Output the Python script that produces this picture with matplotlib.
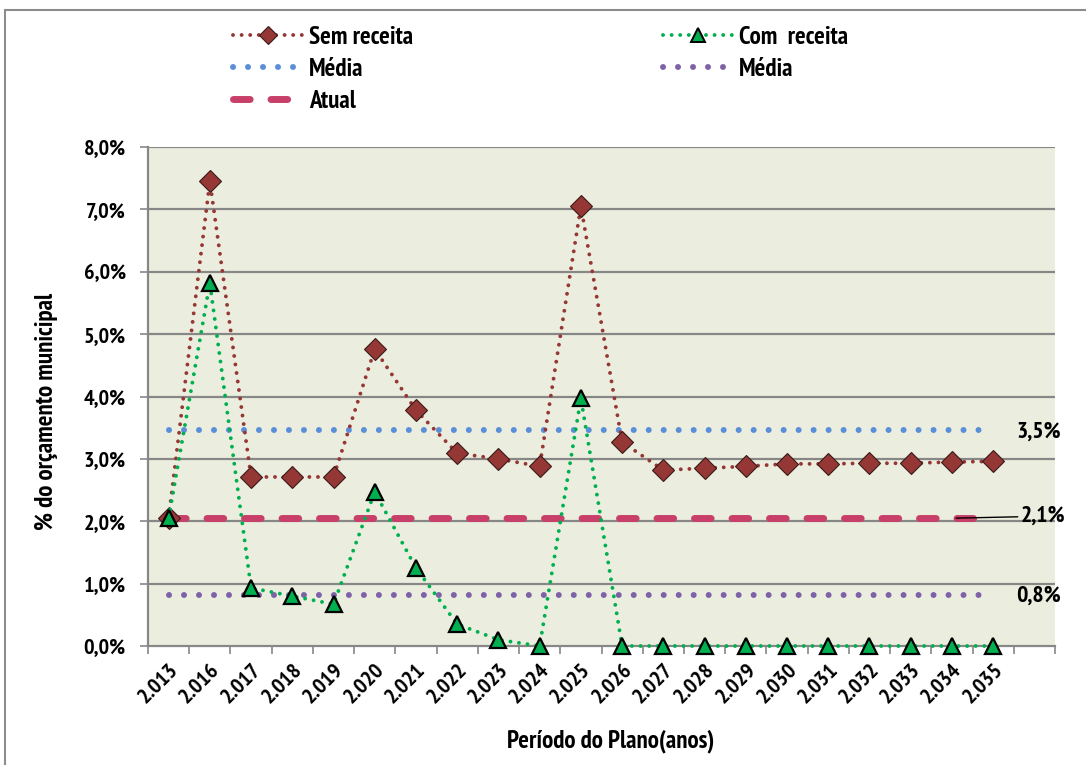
import matplotlib
matplotlib.use("Agg")
import matplotlib.pyplot as plt
from matplotlib import font_manager
from matplotlib.patches import Rectangle
from matplotlib.lines import Line2D
import matplotlib.transforms as mtransforms

# --- data ---
anos = ["2.013", "2.016", "2.017", "2.018", "2.019", "2.020", "2.021", "2.022",
        "2.023", "2.024", "2.025", "2.026", "2.027", "2.028", "2.029", "2.030",
        "2.031", "2.032", "2.033", "2.034", "2.035", ""]
sem_receita = [2.05, 7.45, 2.71, 2.71, 2.71, 4.76, 3.78, 3.09, 3.00, 2.88, 7.05,
               3.27, 2.82, 2.85, 2.88, 2.92, 2.92, 2.93, 2.93, 2.95, 2.96]
com_receita = [2.05, 5.82, 0.93, 0.80, 0.67, 2.47, 1.25, 0.35, 0.10, 0.0, 3.97,
               0.0, 0.0, 0.0, 0.0, 0.0, 0.0, 0.0, 0.0, 0.0, 0.0]
media_sem = 3.47
media_com = 0.82
atual = 2.05
rotulos = {"media_sem": "3,5%", "atual": "2,1%", "media_com": "0,8%"}
yticks = [0, 1, 2, 3, 4, 5, 6, 7, 8]

# --- narrow bold font if we have one ---
names = {f.name for f in font_manager.fontManager.ttflist}
fam = [f for f in ["PT Sans Narrow", "Roboto Condensed", "Liberation Sans Narrow"] if f in names]
plt.rcParams["font.family"] = fam + ["DejaVu Sans"]
plt.rcParams["font.weight"] = "bold"
plt.rcParams["axes.labelweight"] = "bold"
if not fam:
    plt.rcParams["font.stretch"] = "condensed"

FS_TICK = 16
FS_TXT = 18
FS_VAL = 17

fig = plt.figure(figsize=(10.86, 7.65), dpi=100)
fig.patches.append(Rectangle((0.005, -0.1), 1.2, 1.087, transform=fig.transFigure,
                             fill=False, edgecolor="#8c8c8c", linewidth=1.5))

ax = fig.add_axes([148 / 1086, 1 - 646 / 765, 907 / 1086, 499 / 765])
ax.set_facecolor("#EBEEDE")

n = len(sem_receita)
x = list(range(n))

ax.set_xlim(-0.5, len(anos) - 0.5)
ax.set_ylim(0, 8)

for v in yticks[1:]:
    ax.axhline(v, color="#878787", lw=1.6, zorder=1)

blue = "#5B8ED8"
purple = "#7E62A8"
atual_col = "#C8406A"
brown = "#953735"
green = "#00B050"

dot_avg = dict(lw=4.3, linestyle=(0, (0.01, 2.5)), dash_capstyle="round")
dot_ser = dict(lw=2.8, linestyle=(0, (0.01, 2.2)), dash_capstyle="round")
dash_at = dict(lw=5, linestyle=(0, (2.4, 3)), dash_capstyle="round")

ax.plot(x, [media_sem] * n, color=blue, zorder=2, **dot_avg)
ax.plot(x, [media_com] * n, color=purple, zorder=2, **dot_avg)
ax.plot(x, [atual] * n, color=atual_col, zorder=3, **dash_at)

ax.plot(x, sem_receita, color=brown, marker="D", ms=11, mfc=brown, mec="#3a1a1a",
        mew=0.8, zorder=4, **dot_ser)
ax.plot(x, com_receita, color=green, marker="^", ms=12, mfc=green, mec="black",
        mew=1.6, zorder=5, clip_on=False, **dot_ser)

# axes styling
for s in ["top", "right"]:
    ax.spines[s].set_visible(False)
for s in ["left", "bottom"]:
    ax.spines[s].set_color("#878787")
    ax.spines[s].set_linewidth(1.6)

ax.set_yticks(yticks)
ax.set_yticklabels([f"{v:.1f}%".replace(".", ",") for v in yticks], fontsize=FS_TICK)
ax.tick_params(axis="y", direction="out", length=6, color="#878787", width=1.2, pad=10)

ax.set_xticks([i - 0.5 for i in range(len(anos) + 1)], minor=True)
ax.set_xticks(range(len(anos)))
ax.set_xticklabels(anos, rotation=45, ha="right", rotation_mode="anchor", fontsize=FS_TICK)
ax.tick_params(axis="x", which="major", length=0, pad=10)
ax.tick_params(axis="x", which="minor", direction="out", length=6, color="#878787", width=1.2)

ax.set_ylabel("% do orçamento municipal", fontsize=FS_TXT)
ax.yaxis.set_label_coords(-0.099, 0.47)
ax.set_xlabel("Período do Plano(anos)", fontsize=FS_TXT)
ax.xaxis.set_label_coords(0.51, -0.168)

# value labels on the right
tr = mtransforms.blended_transform_factory(ax.transAxes, ax.transData)
ax.text(0.982, media_sem - 0.04, rotulos["media_sem"], transform=tr, ha="center",
        va="center", fontsize=FS_VAL)
ax.text(0.982, media_com - 0.03, rotulos["media_com"], transform=tr, ha="center",
        va="center", fontsize=FS_VAL)
ax.annotate(rotulos["atual"], xy=(19.1, atual), xycoords="data",
            xytext=(0.962, atual + 0.03), textcoords=tr, ha="left", va="center",
            fontsize=FS_VAL, annotation_clip=False,
            arrowprops=dict(arrowstyle="-", color="black", lw=1, shrinkA=0, shrinkB=0))

# legend, two blocks
leg_kw = dict(loc="upper left", frameon=False, fontsize=FS_TXT, handlelength=2.8,
              handletextpad=0.25, labelspacing=0.35, borderpad=0, borderaxespad=0)
h_left = [
    Line2D([], [], color=brown, marker="D", ms=9, mfc=brown, mec="#3a1a1a", mew=0.8, **dot_ser),
    Line2D([], [], color=blue, **dot_avg),
    Line2D([], [], color=atual_col, **dash_at),
]
h_right = [
    Line2D([], [], color=green, marker="^", ms=10, mfc=green, mec="black", mew=1.4, **dot_ser),
    Line2D([], [], color=purple, **dot_avg),
]
fig.legend(h_left, ["Sem receita", "Média", "Atual"],
           bbox_to_anchor=(233 / 1086, 1 - 26 / 765), **leg_kw)
fig.legend(h_right, ["Com  receita", "Média"],
           bbox_to_anchor=(663 / 1086, 1 - 26 / 765), **leg_kw)

fig.savefig("out.png", dpi=100)
